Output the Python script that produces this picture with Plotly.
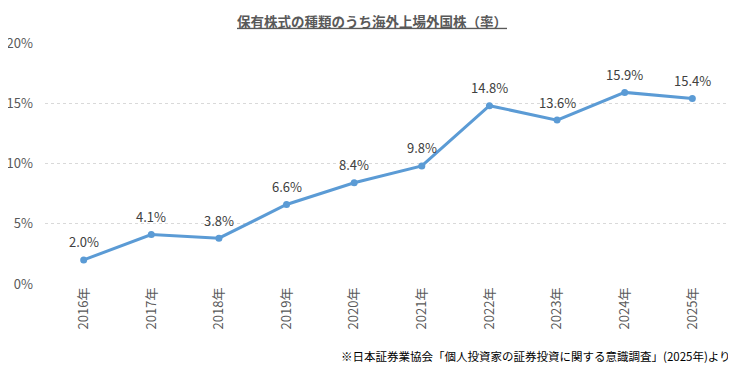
import plotly.graph_objects as go

years = ["2016年", "2017年", "2018年", "2019年", "2020年", "2021年", "2022年", "2023年", "2024年", "2025年"]
values = [2.0, 4.1, 3.8, 6.6, 8.4, 9.8, 14.8, 13.6, 15.9, 15.4]
y_ticks = [0, 5, 10, 15, 20]
y_tick_labels = ["0%", "5%", "10%", "15%", "20%"]

title_text = "保有株式の種類のうち海外上場外国株（率）"
source_text = "※日本証券業協会「個人投資家の証券投資に関する意識調査」(2025年)より"

font_family = "Noto Sans CJK JP, Meiryo, sans-serif"

fig = go.Figure()
fig.add_trace(go.Scatter(
    x=years, y=values,
    mode="lines+markers",
    line=dict(color="#5B9BD5", width=3),
    marker=dict(color="#5B9BD5", size=7),
    cliponaxis=False,
    hoverinfo="skip",
))

label_annotations = [
    dict(
        x=yr, y=v, xref="x", yref="y",
        text=f"{v:.1f}%", showarrow=False,
        xanchor="center", yanchor="middle", yshift=18,
        font=dict(size=13, color="#404040", family=font_family),
    )
    for yr, v in zip(years, values)
]

fig.update_layout(
    width=728, height=370,
    margin=dict(l=37, r=5, t=35, b=94),
    paper_bgcolor="white", plot_bgcolor="white",
    showlegend=False,
    font=dict(family=font_family, color="#595959"),
    title=dict(
        text=f"<b><u>{title_text}</u></b>",
        x=0.5, xanchor="center", y=0.962, yanchor="middle",
        font=dict(size=13.5, color="#595959", family=font_family),
    ),
    xaxis=dict(
        type="category",
        tickangle=-90,
        tickfont=dict(size=13, color="#595959"),
        showgrid=False, zeroline=False, showline=False,
        ticks="", automargin=False,
    ),
    yaxis=dict(
        range=[0, 20],
        tickvals=y_ticks, ticktext=y_tick_labels,
        tickfont=dict(size=13, color="#595959"),
        showgrid=True, gridcolor="#D9D9D9", griddash="dot", gridwidth=1,
        zeroline=False, showline=False, ticks="",
        ticklabelstandoff=11, automargin=False,
    ),
    annotations=label_annotations + [dict(
        text=source_text, xref="paper", yref="paper",
        x=1.003, y=-0.299, xanchor="right", yanchor="middle",
        showarrow=False,
        font=dict(size=11.5, color="#000000", family=font_family),
    )],
)

fig.write_html("out.html")
